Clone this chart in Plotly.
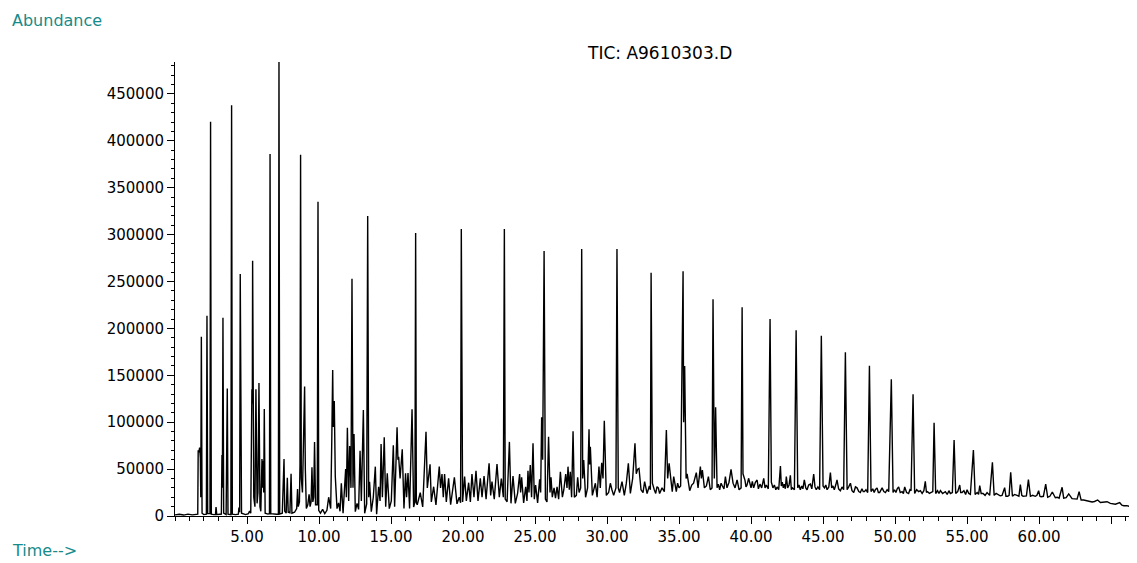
import plotly.graph_objects as go

# ---------------- data (time in min, abundance) ----------------
rt_early = [0.00, 0.30, 0.60, 0.90, 1.20, 1.50,
            1.58, 1.61, 1.66, 1.71, 1.76, 1.79, 1.83, 1.88,
            2.00, 2.18, 2.22, 2.27, 2.43, 2.47, 2.52,
            2.70, 2.81, 2.85, 2.90, 3.10,
            3.22, 3.26, 3.29, 3.33, 3.38,
            3.55, 3.63, 3.68, 3.88, 3.93, 3.98,
            4.20, 4.40, 4.44, 4.49, 4.53, 4.57, 4.62,
            4.90, 5.10, 5.18, 5.26, 5.34, 5.37, 5.39, 5.42, 5.47, 5.55, 5.62,
            5.70, 5.76, 5.83, 5.90, 5.96, 6.04, 6.08, 6.11, 6.16, 6.20, 6.26,
            6.45, 6.56, 6.60, 6.65, 6.85, 7.05, 7.18, 7.22, 7.27,
            7.45, 7.57, 7.62, 7.72, 7.80, 7.86, 7.98, 8.06, 8.12,
            8.30, 8.45, 8.51, 8.56, 8.64, 8.68, 8.72, 8.77, 8.85, 8.94, 9.00, 9.05, 9.12,
            9.22, 9.31, 9.38, 9.45, 9.51, 9.57, 9.63, 9.69, 9.76, 9.88, 9.93, 9.98]
ab_early = [1200, 1800, 1000, 2000, 1200, 1500,
            2000, 70000, 68000, 73000, 62000, 20000, 191000, 3000,
            1500, 2000, 213500, 2500, 2500, 420300, 2000,
            1500, 1500, 9500, 1500, 1800,
            2000, 65000, 30000, 211400, 3000,
            1500, 136000, 2000, 1500, 438000, 2000,
            1500, 2000, 9000, 4000, 258000, 20000, 3000,
            1500, 2500, 5300, 3000, 135000, 120000, 272000, 118000, 20000, 10000, 135000,
            13500, 25000, 141700, 10000, 5000, 60700, 30000, 59000, 25000, 114000, 3000,
            2000, 2500, 386000, 2500, 2000, 1800, 2000, 484000, 2000,
            3000, 60800, 5000, 3000, 40800, 4000, 3500, 45000, 3000,
            4000, 8000, 28800, 10000, 15000, 56000, 385000, 40000, 25000, 90000, 138000, 50000, 8000,
            12000, 23000, 10000, 15000, 52000, 15000, 20000, 79000, 12000, 12000, 335000, 6000]

rt_mid1 = [10.10, 10.25, 10.40, 10.55, 10.67, 10.81, 10.88, 10.95, 10.99, 11.06,
           11.13, 11.25, 11.36, 11.46, 11.55, 11.67, 11.85, 11.90, 11.97, 12.06,
           12.13, 12.22, 12.29, 12.36, 12.43, 12.52, 12.64, 12.75, 12.85, 12.94,
           13.08, 13.17, 13.31, 13.38, 13.45, 13.51, 13.63, 13.77, 13.91, 14.00,
           14.14, 14.24, 14.31, 14.40, 14.53, 14.63, 14.74, 14.88, 15.02, 15.16,
           15.25, 15.42, 15.48, 15.53, 15.63, 15.78, 15.90, 16.01, 16.08, 16.18,
           16.29, 16.46, 16.57, 16.66, 16.71, 16.76, 16.82, 17.03, 17.20, 17.43,
           17.52, 17.71, 17.80, 17.96, 18.12, 18.35, 18.44, 18.54, 18.63, 18.72,
           18.84, 19.00, 19.14, 19.40, 19.58, 19.74, 19.83, 19.88, 19.97, 20.11,
           20.23, 20.39, 20.51, 20.62, 20.76, 20.90, 21.04, 21.20, 21.32, 21.46,
           21.60, 21.81, 21.92, 22.01, 22.17, 22.36, 22.52, 22.66, 22.80, 22.87,
           22.93]
ab_mid1 = [3000, 7000, 2500, 6000, 20000, 7900, 73900, 155600, 95000, 122600,
           42000, 7900, 13900, 5000, 35000, 2900, 50000, 20000, 94000, 16000,
           74600, 30000, 253000, 30000, 87400, 4600, 13500, 7000, 69600, 16000,
           113000, 2900, 13000, 319800, 20000, 36600, 4600, 20000, 52600, 2000,
           31200, 16000, 76700, 20000, 83900, 10000, 45500, 7900, 16000, 75300,
           10000, 94500, 60000, 63200, 40000, 71100, 7900, 45500, 20000, 45800,
           7900, 113700, 9600, 15000, 301700, 14000, 12000, 24800, 9600, 89900,
           30000, 55100, 15000, 31200, 11700, 52600, 30000, 44800, 20000, 44800,
           15000, 40200, 12000, 41200, 13000, 20000, 14000, 306000, 15000, 42000,
           16000, 35500, 15000, 44800, 20000, 48300, 16000, 40200, 20000, 42600,
           18000, 56200, 22000, 36600, 18000, 55400, 20000, 40000, 20000, 306000,
           18000]

rt_mid2 = [23.06, 23.22, 23.33, 23.47, 23.63, 23.79, 23.93, 24.00, 24.07, 24.21,
           24.35, 24.44, 24.51, 24.58, 24.67, 24.76, 24.86, 24.95, 25.04, 25.18,
           25.32, 25.39, 25.46, 25.53, 25.63, 25.72, 25.83, 25.94, 26.04, 26.11,
           26.20, 26.32, 26.42, 26.53, 26.64, 26.76, 26.90, 27.00, 27.13, 27.22,
           27.29, 27.38, 27.45, 27.54, 27.64, 27.73, 27.87, 27.96, 28.06, 28.17,
           28.24, 28.31, 28.38, 28.51, 28.65, 28.75, 28.79, 28.84, 28.98, 29.19,
           29.31, 29.44, 29.53, 29.63, 29.72, 29.81, 29.95, 30.11, 30.23, 30.34,
           30.46, 30.62, 30.69, 30.78, 30.87, 31.04, 31.20, 31.34, 31.48, 31.62,
           31.78, 31.94, 32.03, 32.13, 32.22, 32.36, 32.50, 32.61, 32.78, 32.94,
           33.01, 33.06, 33.15, 33.28, 33.38, 33.47, 33.56, 33.65, 33.82, 33.98,
           34.12, 34.21, 34.31, 34.44, 34.53, 34.63, 34.72, 34.81, 34.90, 35.00,
           35.11, 35.28, 35.32, 35.39, 35.49]
ab_mid2 = [15200, 79000, 13500, 42600, 13500, 24200, 44800, 25000, 41200, 14000,
           31200, 16000, 48300, 25000, 54400, 20000, 77500, 18000, 33000, 14000,
           39100, 25000, 105200, 60000, 282500, 18000, 15000, 84500, 25000, 41200,
           20000, 30000, 19000, 31200, 18000, 47200, 20000, 28000, 44800, 30000,
           52600, 28000, 47200, 20000, 90300, 20000, 22000, 41200, 25000, 30000,
           284600, 40000, 59700, 20000, 30000, 92400, 55000, 73900, 22000, 34900,
           20000, 52600, 30000, 56800, 40000, 101600, 22000, 25000, 34900, 28000,
           22000, 30000, 284600, 30000, 25000, 36600, 22000, 35000, 56200, 24000,
           40000, 77500, 45000, 50000, 50800, 28000, 25000, 36600, 24000, 32000,
           28000, 259400, 35000, 28000, 24000, 31200, 30000, 24000, 30000, 26000,
           91700, 40000, 56200, 38000, 26000, 42000, 33000, 26000, 35000, 30000,
           32000, 261000, 100000, 159900, 40000]

rt_late1 = [35.56, 35.74, 35.88, 36.01, 36.20, 36.32, 36.48, 36.55, 36.62, 36.76,
            36.90, 37.04, 37.17, 37.29, 37.36, 37.45, 37.54, 37.64, 37.73, 37.82,
            37.92, 38.01, 38.12, 38.22, 38.33, 38.47, 38.61, 38.75, 38.89, 39.03,
            39.17, 39.31, 39.38, 39.44, 39.58, 39.65, 39.72, 39.83, 40.00, 40.09,
            40.18, 40.30, 40.42, 40.51, 40.62, 40.74, 40.88, 40.97, 41.06, 41.20,
            41.32, 41.41, 41.52, 41.62, 41.72, 41.81, 41.92, 42.04, 42.10, 42.17,
            42.24, 42.31, 42.38, 42.45, 42.54, 42.64, 42.73, 42.80, 42.87, 43.01,
            43.13, 43.24, 43.33, 43.42, 43.52, 43.60, 43.70, 43.80, 43.89, 44.00,
            44.12, 44.22, 44.35, 44.44, 44.53, 44.64, 44.76, 44.88, 45.00, 45.10,
            45.19, 45.28, 45.40, 45.51, 45.60, 45.69, 45.78, 45.88, 45.97, 46.08,
            46.20, 46.32, 46.43, 46.55, 46.67, 46.78, 46.90, 47.01, 47.13, 47.25,
            47.36, 47.48, 47.59, 47.70, 47.79, 47.87, 47.98, 48.10, 48.22, 48.33,
            48.45, 48.55, 48.63, 48.75, 48.84, 48.93]
ab_late1 = [45000, 27000, 33000, 35000, 46200, 30000, 52600, 40000, 49000, 30000,
            32000, 42000, 28000, 30000, 231000, 40000, 115900, 30000, 34000, 28000,
            35000, 32000, 29000, 42000, 30000, 36000, 49800, 35000, 30000, 38400,
            28000, 30000, 222500, 45000, 38000, 31000, 33000, 40200, 30000, 37000,
            30000, 36000, 38400, 29000, 34000, 30000, 40200, 30000, 33000, 29000,
            210000, 36000, 30000, 33000, 28000, 31000, 28000, 53300, 32000, 36000,
            30000, 34000, 29000, 42000, 30000, 33000, 43400, 28000, 30000, 28000,
            198000, 30000, 33000, 28000, 32000, 29000, 38400, 30000, 28000, 33000,
            34000, 29000, 44800, 31000, 28000, 31000, 28000, 192200, 32000, 30000,
            33000, 28000, 31000, 46200, 30000, 32000, 28000, 33000, 38400, 29000,
            27000, 31000, 28000, 174500, 28000, 31000, 34900, 27000, 25000, 31000,
            30000, 26000, 25000, 29000, 26000, 26000, 28000, 25000, 160200, 26000,
            29000, 25000, 28000, 30000, 25000, 25000]

rt_late2 = [49.02, 49.10, 49.22, 49.33, 49.45, 49.56, 49.74, 49.86, 49.96, 50.06,
            50.15, 50.25, 50.36, 50.49, 50.58, 50.67, 50.80, 50.94, 51.03, 51.11,
            51.25, 51.36, 51.50, 51.64, 51.76, 51.88, 52.00, 52.10, 52.18, 52.26,
            52.38, 52.50, 52.62, 52.71, 52.82, 52.95, 53.05, 53.15, 53.30, 53.49,
            53.62, 53.74, 53.84, 53.98, 54.10, 54.21, 54.35, 54.49, 54.56, 54.65,
            54.78, 54.90, 55.00, 55.12, 55.23, 55.44, 55.56, 55.70, 55.80, 55.88,
            55.98, 56.11, 56.25, 56.39, 56.57, 56.76, 56.88, 57.02, 57.19, 57.30,
            57.43, 57.61, 57.70, 57.82, 57.92, 58.03, 58.15, 58.30, 58.47, 58.60,
            58.70, 58.80, 58.89, 59.12, 59.26, 59.40, 59.55, 59.74, 59.85, 59.97,
            60.06, 60.14, 60.30, 60.46, 60.60, 60.75, 60.92, 61.13, 61.26, 61.39,
            61.60, 61.71, 61.88, 62.06, 62.29, 62.45, 62.64, 62.78, 62.92, 63.10,
            63.33, 63.50, 63.68, 63.85, 64.07, 64.26, 64.50, 64.72, 64.95, 65.15,
            65.30, 65.60, 65.75, 65.88, 66.10, 66.35, 66.60, 66.80]
ab_late2 = [28000, 30000, 26000, 25000, 28000, 26000, 145700, 25000, 28000, 25000,
            29000, 31000, 25000, 26000, 24000, 31000, 25000, 24000, 28000, 27000,
            129700, 24000, 28000, 26000, 27000, 24000, 27000, 37000, 25000, 26000,
            24000, 25000, 26000, 99500, 24000, 27000, 24000, 27000, 24000, 26000,
            23000, 27000, 24000, 25000, 81000, 24000, 26000, 33000, 25000, 25000,
            27000, 23000, 28000, 24000, 23000, 70400, 23000, 25000, 23000, 32300,
            24000, 24000, 22000, 25000, 22000, 57200, 22000, 24000, 23000, 21500,
            22000, 30200, 21000, 21000, 22000, 46600, 21000, 23000, 22000, 21000,
            33400, 22000, 21000, 21500, 38700, 21000, 22000, 21000, 22000, 27000,
            21000, 20500, 21000, 34100, 20000, 21000, 25600, 19500, 20000, 19000,
            30600, 19000, 19500, 23500, 18500, 18000, 18000, 25900, 17000, 17000,
            16000, 16000, 15000, 15500, 17100, 14500, 14500, 15200, 13500, 13000,
            12500, 14200, 11500, 11000, 11000, 10000, 9800, 9300]

x_tick_values = [5, 10, 15, 20, 25, 30, 35, 40, 45, 50, 55, 60, 65]
x_tick_labels = ["5.00", "10.00", "15.00", "20.00", "25.00", "30.00", "35.00",
                 "40.00", "45.00", "50.00", "55.00", "60.00", ""]
y_tick_values = [0, 50000, 100000, 150000, 200000, 250000, 300000, 350000, 400000, 450000]
y_tick_labels = ["0", "50000", "100000", "150000", "200000", "250000", "300000",
                 "350000", "400000", "450000"]

rt = rt_early + rt_mid1 + rt_mid2 + rt_late1 + rt_late2
ab = ab_early + ab_mid1 + ab_mid2 + ab_late1 + ab_late2
assert len(rt) == len(ab), (len(rt), len(ab))

TEAL = "#178A8A"
FONT = "DejaVu Sans"

# The page body has an 8 px default margin, so the figure is 8 px smaller
# and the plot area still lands at x 175..1137, y 62..516 of the window.
fig = go.Figure(
    go.Scatter(x=rt, y=ab, mode="lines",
               line=dict(color="black", width=1.4),
               showlegend=False, name="TIC")
)

fig.update_layout(
    width=1129, height=555,
    margin=dict(l=167, r=0, t=54, b=47),
    paper_bgcolor="white", plot_bgcolor="white",
    showlegend=False,
    xaxis=dict(
        range=[0, 66.8], showline=True, linecolor="black", linewidth=1,
        showgrid=False, zeroline=False,
        ticks="outside", ticklen=7, tickwidth=1, tickcolor="black",
        tickmode="array", tickvals=x_tick_values, ticktext=x_tick_labels,
        tickfont=dict(family=FONT, size=15, color="black"),
        minor=dict(ticks="outside", ticklen=4, tickwidth=1, tickcolor="black",
                   tickmode="linear", tick0=0, dtick=1, showgrid=False),
    ),
    yaxis=dict(
        range=[0, 484000], showline=True, linecolor="black", linewidth=1,
        showgrid=False, zeroline=False,
        ticks="outside", ticklen=7, tickwidth=1, tickcolor="black",
        tickmode="array", tickvals=y_tick_values, ticktext=y_tick_labels,
        tickfont=dict(family=FONT, size=15, color="black"),
        minor=dict(ticks="outside", ticklen=3.5, tickwidth=1, tickcolor="black",
                   tickmode="linear", tick0=0, dtick=10000, showgrid=False),
    ),
    annotations=[
        dict(text="Abundance", xref="paper", yref="paper",
             x=(10 - 175) / 962, y=(516 - 9) / 454, xanchor="left", yanchor="top",
             showarrow=False, font=dict(family=FONT, size=16, color=TEAL)),
        dict(text="Time-->", xref="paper", yref="paper",
             x=(10 - 175) / 962, y=(516 - 550) / 454, xanchor="left", yanchor="middle",
             showarrow=False, font=dict(family=FONT, size=16, color=TEAL)),
        dict(text="TIC: A9610303.D", xref="paper", yref="paper",
             x=(659 - 175) / 962, y=(516 - 53) / 454, xanchor="center", yanchor="middle",
             showarrow=False, font=dict(family=FONT, size=17, color="black")),
    ],
)

fig.write_html("out.html", config={"displayModeBar": False})
